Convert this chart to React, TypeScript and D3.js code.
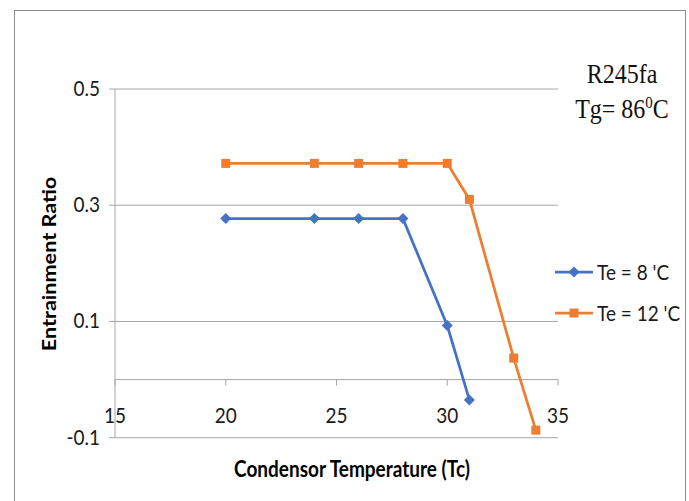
import React from 'react';
import * as d3 from 'd3';

// Condensor temperature (Tc) and entrainment ratio
const te8Temps = [20, 24, 26, 28, 30, 31];
const te8Ratio = [0.277, 0.277, 0.277, 0.277, 0.093, -0.035];

const te12Temps = [20, 24, 26, 28, 30, 31, 33, 34];
const te12Ratio = [0.372, 0.372, 0.372, 0.372, 0.372, 0.31, 0.037, -0.087];

const xTicks = [15, 20, 25, 30, 35];
const yTicks = [0.5, 0.3, 0.1, -0.1];
const yTickLabels = ['0.5', '0.3', '0.1', '-0.1'];

const seriesNames = ["Te = 8 'C", "Te = 12 'C"];
const blue = '#4472c4';
const orange = '#ed7d31';

const labelFont = 'Lato, "Open Sans", sans-serif';

// the source image is a bit stretched vertically, so text is too
const stretch = (tx, ty, k) => `translate(${tx},${ty}) scale(1,${k})`;

export default function App() {
    const x = d3.scaleLinear().domain([15, 35]).range([115, 558]);
    const y = d3.scaleLinear().domain([-0.1, 0.5]).range([437.7, 89]);

    const line = d3
        .line<[number, number]>()
        .x(d => x(d[0]))
        .y(d => y(d[1]));

    const te8 = te8Temps.map((t, i) => [t, te8Ratio[i]] as [number, number]);
    const te12 = te12Temps.map((t, i) => [t, te12Ratio[i]] as [number, number]);

    const diamond = (cx, cy) => `M${cx},${cy - 5.5}L${cx + 5.5},${cy}L${cx},${cy + 5.5}L${cx - 5.5},${cy}Z`;

    return (
        <svg width={689} height={501} style={{ position: 'absolute', left: 0, top: 0 }}>
            <rect x={0} y={0} width={689} height={501} fill="#fff" />
            <rect x={14.5} y={10.5} width={671} height={500} fill="none" stroke="#8c8c8c" strokeWidth={1} />

            {/* gridlines */}
            {yTicks.map(t => (
                <line key={t} x1={x(15)} x2={x(35)} y1={y(t)} y2={y(t)} stroke="#a6a6a6" strokeWidth={1} />
            ))}
            {/* y axis */}
            <line x1={x(15)} x2={x(15)} y1={y(0.5)} y2={y(-0.1)} stroke="#a6a6a6" strokeWidth={1} />
            {yTicks.map(t => (
                <line key={t} x1={x(15) - 6} x2={x(15)} y1={y(t)} y2={y(t)} stroke="#a6a6a6" strokeWidth={1} />
            ))}
            {yTicks.map((t, i) => (
                <text key={t} transform={stretch(100, y(t) + 7, 1.12)} textAnchor="end"
                    fontFamily={labelFont} fontSize={19} fill="#1a1a1a">{yTickLabels[i]}</text>
            ))}

            {/* x axis at zero */}
            <line x1={x(15)} x2={x(35)} y1={y(0)} y2={y(0)} stroke="#a6a6a6" strokeWidth={1} />
            {xTicks.map(t => (
                <line key={t} x1={x(t)} x2={x(t)} y1={y(0)} y2={y(0) + 6} stroke="#a6a6a6" strokeWidth={1} />
            ))}
            {xTicks.map(t => (
                <text key={t} transform={stretch(x(t), y(0) + 43, 1.12)} textAnchor="middle"
                    fontFamily={labelFont} fontSize={19} fill="#1a1a1a">{t}</text>
            ))}

            {/* series */}
            <path d={line(te8) || ''} fill="none" stroke={blue} strokeWidth={2.75} />
            <path d={line(te12) || ''} fill="none" stroke={orange} strokeWidth={2.75} />
            {te8.map((d, i) => (
                <path key={i} d={diamond(x(d[0]), y(d[1]))} fill={blue} />
            ))}
            {te12.map((d, i) => (
                <rect key={i} x={x(d[0]) - 4.5} y={y(d[1]) - 4.5} width={9} height={9} fill={orange} />
            ))}

            {/* axis titles */}
            <text transform={stretch(352, 477, 1.25)} textAnchor="middle" fontFamily={labelFont} fontWeight="bold"
                fontSize={19} fill="#000">Condensor Temperature (Tc)</text>
            <text transform="translate(56,264) rotate(-90) scale(1.2,1)" textAnchor="middle" fontFamily={labelFont}
                fontWeight="bold" fontSize={18} fill="#000">Entrainment Ratio</text>

            {/* annotation */}
            <text transform={stretch(622, 83, 1.15)} textAnchor="middle" fontFamily='"Liberation Serif", serif'
                fontSize={24} fill="#111">R245fa</text>
            <text transform={stretch(622, 118, 1.15)} textAnchor="middle" fontFamily='"Liberation Serif", serif'
                fontSize={24} fill="#111">
                Tg= 86<tspan fontSize={15} dy={-9}>0</tspan><tspan dy={9}>C</tspan>
            </text>

            {/* legend */}
            {seriesNames.map((name, i) => {
                const ly = 272 + i * 41;
                return (
                    <g key={name}>
                        <line x1={555} x2={593} y1={ly} y2={ly} stroke={i === 0 ? blue : orange} strokeWidth={2.75} />
                        {i === 0
                            ? <path d={diamond(574, ly)} fill={blue} />
                            : <rect x={569.5} y={ly - 4.5} width={9} height={9} fill={orange} />}
                        <text transform={stretch(597, ly + 7.5, 1.15)} fontFamily={labelFont} fontSize={19}
                            fill="#1a1a1a">{name}</text>
                    </g>
                );
            })}
        </svg>
    );
}
